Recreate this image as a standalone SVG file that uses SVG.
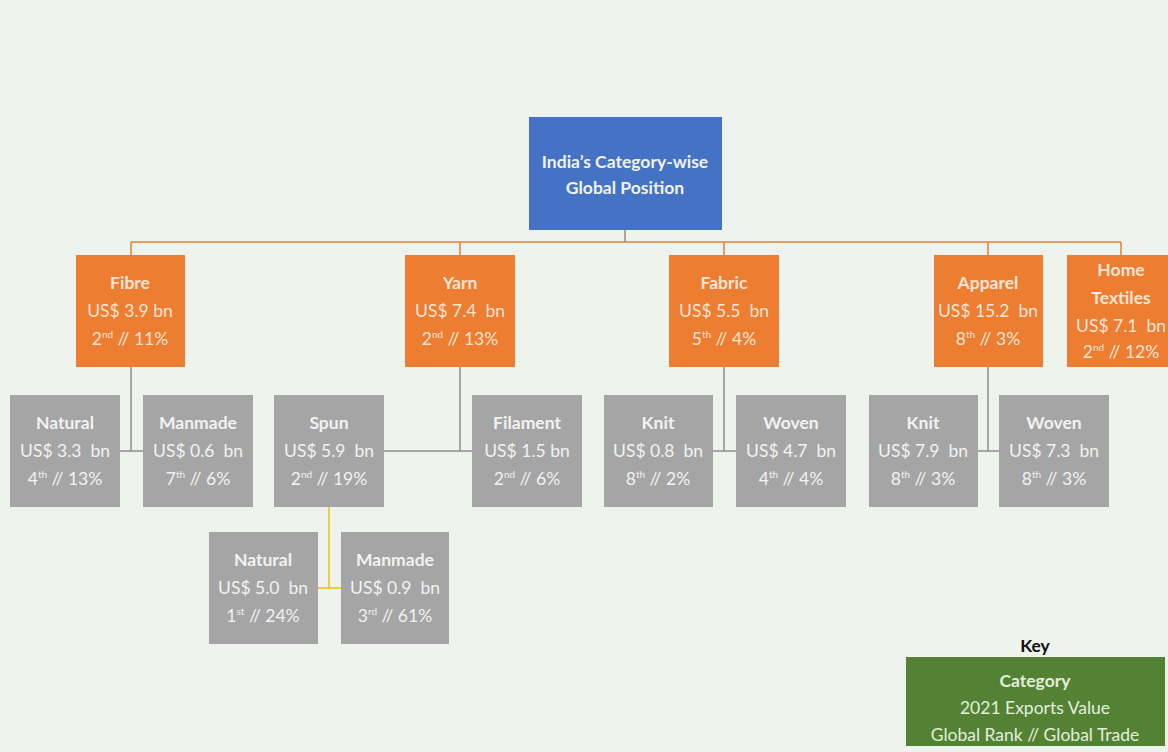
<svg xmlns="http://www.w3.org/2000/svg" width="1168" height="752" viewBox="0 0 1168 752">
<style>
text{font-family:Lato,"Liberation Sans",sans-serif;font-size:17.5px;text-anchor:middle;white-space:pre}
.t{font-weight:bold}
.ow text{fill:#fbe5d6}
.gw text{fill:#f2f2f2}
.or{fill:#ED7D31}
.gr{fill:#A5A5A5}
.sup{font-size:10px}
.cn{fill:none;stroke-width:1.5}
</style>
<rect width="1168" height="752" fill="#EEF3EE"/>
<g id="connectors">
<path class="cn" stroke="#ED7D31" d="M131 242H1121M131 242V255M460 242V255M724 242V255M988 242V255M1121 242V255"/>
<path class="cn" stroke="#9a8a80" d="M625 230V242"/>
<path class="cn" stroke="#8f8f8f" d="M131 367V451M120 451H143M460 367V451M383 451H472M724 367V451M713 451H736M988 367V451M977 451H999"/>
<path class="cn" stroke="#F2C000" stroke-width="2" d="M329 507V588M318 588H341"/>
</g>
<g id="root">
<rect x="529" y="117" width="193" height="113" fill="#4472C4"/>
<text x="625" y="168" class="t" fill="#f2f2f2" font-size="18.5">India’s Category-wise</text>
<text x="625" y="194" class="t" fill="#f2f2f2" font-size="18.5">Global Position</text>
</g>
<g id="fibre" class="ow">
<rect class="or" x="76" y="255" width="109" height="112"/>
<text x="130" y="289" class="t">Fibre</text>
<text x="130" y="317">US$ 3.9 bn</text>
<text x="130" y="345">2<tspan class="sup" dy="-7">nd</tspan><tspan dy="7"> // 11%</tspan></text>
</g>
<g id="yarn" class="ow">
<rect class="or" x="405" y="255" width="110" height="112"/>
<text x="460" y="289" class="t">Yarn</text>
<text x="460" y="317">US$ 7.4  bn</text>
<text x="460" y="345">2<tspan class="sup" dy="-7">nd</tspan><tspan dy="7"> // 13%</tspan></text>
</g>
<g id="fabric" class="ow">
<rect class="or" x="669" y="255" width="110" height="112"/>
<text x="724" y="289" class="t">Fabric</text>
<text x="724" y="317">US$ 5.5  bn</text>
<text x="724" y="345">5<tspan class="sup" dy="-7">th</tspan><tspan dy="7"> // 4%</tspan></text>
</g>
<g id="apparel" class="ow">
<rect class="or" x="934" y="255" width="109" height="112"/>
<text x="988" y="289" class="t">Apparel</text>
<text x="988" y="317">US$ 15.2  bn</text>
<text x="988" y="345">8<tspan class="sup" dy="-7">th</tspan><tspan dy="7"> // 3%</tspan></text>
</g>
<g id="home-textiles" class="ow">
<rect class="or" x="1067" y="255" width="110" height="112"/>
<text x="1121" y="276" class="t">Home</text>
<text x="1121" y="304" class="t">Textiles</text>
<text x="1121" y="332">US$ 7.1  bn</text>
<text x="1121" y="358">2<tspan class="sup" dy="-7">nd</tspan><tspan dy="7"> // 12%</tspan></text>
</g>
<g id="fibre-natural" class="gw">
<rect class="gr" x="10" y="395" width="110" height="112"/>
<text x="65" y="429" class="t">Natural</text>
<text x="65" y="457">US$ 3.3  bn</text>
<text x="65" y="485">4<tspan class="sup" dy="-7">th</tspan><tspan dy="7"> // 13%</tspan></text>
</g>
<g id="fibre-manmade" class="gw">
<rect class="gr" x="143" y="395" width="110" height="112"/>
<text x="198" y="429" class="t">Manmade</text>
<text x="198" y="457">US$ 0.6  bn</text>
<text x="198" y="485">7<tspan class="sup" dy="-7">th</tspan><tspan dy="7"> // 6%</tspan></text>
</g>
<g id="spun" class="gw">
<rect class="gr" x="274" y="395" width="110" height="112"/>
<text x="329" y="429" class="t">Spun</text>
<text x="329" y="457">US$ 5.9  bn</text>
<text x="329" y="485">2<tspan class="sup" dy="-7">nd</tspan><tspan dy="7"> // 19%</tspan></text>
</g>
<g id="filament" class="gw">
<rect class="gr" x="472" y="395" width="110" height="112"/>
<text x="527" y="429" class="t">Filament</text>
<text x="527" y="457">US$ 1.5 bn</text>
<text x="527" y="485">2<tspan class="sup" dy="-7">nd</tspan><tspan dy="7"> // 6%</tspan></text>
</g>
<g id="fabric-knit" class="gw">
<rect class="gr" x="604" y="395" width="109" height="112"/>
<text x="658" y="429" class="t">Knit</text>
<text x="658" y="457">US$ 0.8  bn</text>
<text x="658" y="485">8<tspan class="sup" dy="-7">th</tspan><tspan dy="7"> // 2%</tspan></text>
</g>
<g id="fabric-woven" class="gw">
<rect class="gr" x="736" y="395" width="110" height="112"/>
<text x="791" y="429" class="t">Woven</text>
<text x="791" y="457">US$ 4.7  bn</text>
<text x="791" y="485">4<tspan class="sup" dy="-7">th</tspan><tspan dy="7"> // 4%</tspan></text>
</g>
<g id="apparel-knit" class="gw">
<rect class="gr" x="869" y="395" width="109" height="112"/>
<text x="923" y="429" class="t">Knit</text>
<text x="923" y="457">US$ 7.9  bn</text>
<text x="923" y="485">8<tspan class="sup" dy="-7">th</tspan><tspan dy="7"> // 3%</tspan></text>
</g>
<g id="apparel-woven" class="gw">
<rect class="gr" x="999" y="395" width="110" height="112"/>
<text x="1054" y="429" class="t">Woven</text>
<text x="1054" y="457">US$ 7.3  bn</text>
<text x="1054" y="485">8<tspan class="sup" dy="-7">th</tspan><tspan dy="7"> // 3%</tspan></text>
</g>
<g id="spun-natural" class="gw">
<rect class="gr" x="209" y="532" width="109" height="112"/>
<text x="263" y="566" class="t">Natural</text>
<text x="263" y="594">US$ 5.0  bn</text>
<text x="263" y="622">1<tspan class="sup" dy="-7">st</tspan><tspan dy="7"> // 24%</tspan></text>
</g>
<g id="spun-manmade" class="gw">
<rect class="gr" x="341" y="532" width="108" height="112"/>
<text x="395" y="566" class="t">Manmade</text>
<text x="395" y="594">US$ 0.9  bn</text>
<text x="395" y="622">3<tspan class="sup" dy="-7">rd</tspan><tspan dy="7"> // 61%</tspan></text>
</g>
<g id="key">
<text x="1035" y="652" class="t" fill="#111" font-size="18">Key</text>
<rect x="906" y="657" width="259" height="89" fill="#548235"/>
<text x="1035" y="687" class="t" fill="#e2efda" font-size="18.5">Category</text>
<text x="1035" y="714" fill="#e2efda" font-size="18.5">2021 Exports Value</text>
<text x="1035" y="741" fill="#e2efda" font-size="18.5">Global Rank // Global Trade</text>
</g>
</svg>
